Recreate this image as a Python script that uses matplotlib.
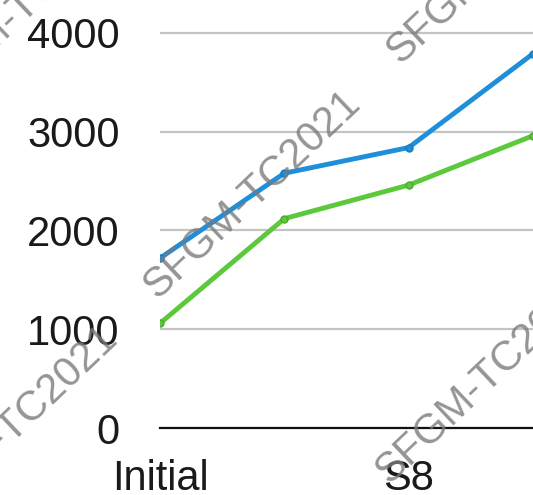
import matplotlib
matplotlib.use("Agg")
import matplotlib.pyplot as plt

categories = ["Initial", "S4", "S8", "S12"]
shown_labels = ["Initial", "", "S8", ""]
blue_values = [1720, 2580, 2840, 3790]
green_values = [1060, 2120, 2460, 2960]
yticks = [0, 1000, 2000, 3000, 4000]
watermark = "SFGM-TC2021"

W, H = 533, 495
fig = plt.figure(figsize=(W / 100, H / 100), dpi=100)
plt.rcParams['font.family'] = ['Liberation Sans', 'DejaVu Sans']

ax = fig.add_axes([160 / W, 67 / H, 1 - 160 / W, 1 - 67 / H])
x = list(range(len(categories)))
ax.plot(x, blue_values, color="#1e8fd8", lw=3.5, marker="o", ms=5,
        mfc="#1e8fd8", mec="#177ab8", mew=1, solid_capstyle="round", zorder=3)
ax.plot(x, green_values, color="#5cc83c", lw=3.5, marker="o", ms=5,
        mfc="#5cc83c", mec="#4aaa30", mew=1, solid_capstyle="round", zorder=3)

ax.set_xlim(0, (533 - 160) / 128)
ax.set_ylim(0, 428 / 98.75 * 1000)
ax.set_yticks(yticks)
ax.set_xticks(x)
ax.set_xticklabels(shown_labels)
ax.tick_params(axis="both", length=0, labelsize=30, colors="#1a1a1a")
ax.tick_params(axis="y", pad=29)
ax.tick_params(axis="x", pad=22)
for s in ["top", "right", "left"]:
    ax.spines[s].set_visible(False)
ax.spines["bottom"].set_color("#111111")
ax.spines["bottom"].set_linewidth(1.6)
ax.yaxis.grid(True, color="#c4c4c4", lw=1.6)
ax.set_axisbelow(True)
ax.patch.set_alpha(0)

c1 = (252, 195)
a = (232, 185)
b = (-243, 235)
centers = [c1, (c1[0] + a[0], c1[1] + a[1]), (c1[0] - a[0], c1[1] - a[1]),
           (c1[0] + b[0], c1[1] + b[1]), (c1[0] - b[0], c1[1] - b[1])]
for cx, cy in centers:
    fig.text(cx / W, 1 - cy / H, watermark, fontsize=30, color="#7a7a7a",
             alpha=0.8, rotation=43.5, rotation_mode="anchor",
             ha="center", va="center", zorder=5)

fig.savefig("out.png", dpi=100)
